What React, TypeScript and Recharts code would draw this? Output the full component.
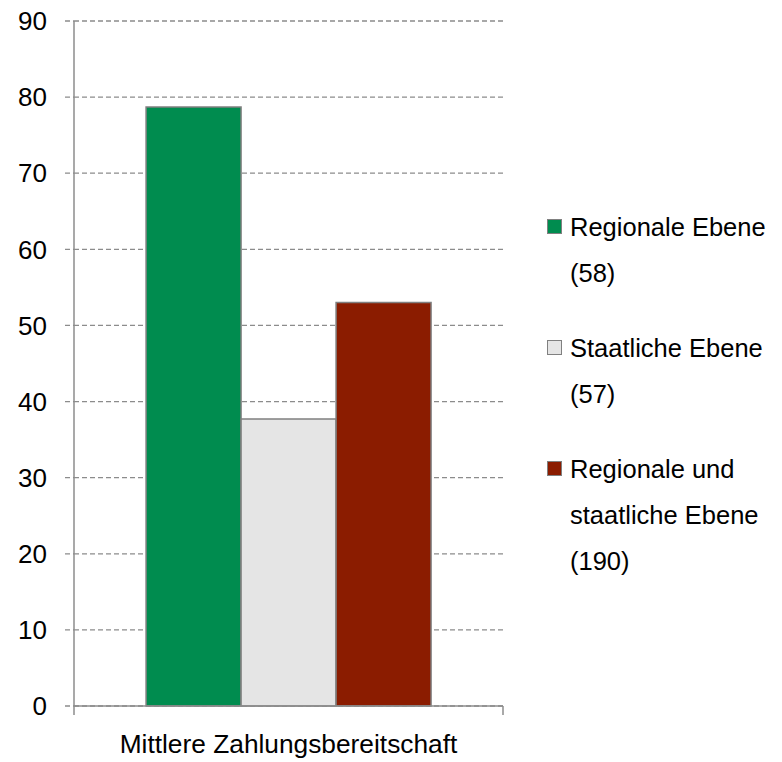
import { BarChart, Bar, XAxis, YAxis, CartesianGrid, Legend } from 'recharts';

const categories = ['Mittlere Zahlungsbereitschaft'];
const regionalValues = [78.7];
const staatlichValues = [37.7];
const beideValues = [53.0];
const seriesKeys = ['regional', 'staatlich', 'beide'];
const seriesLabels = ['Regionale Ebene\n(58)', 'Staatliche Ebene\n(57)', 'Regionale und\nstaatliche Ebene\n(190)'];
const seriesColors = ['#008C4F', '#E5E5E5', '#8B1C00'];
const yTicks = [0, 10, 20, 30, 40, 50, 60, 70, 80, 90];

const data = categories.map((name, i) => ({
  name,
  regional: regionalValues[i],
  staatlich: staatlichValues[i],
  beide: beideValues[i],
}));

const FONT = '"Liberation Sans", Arial, sans-serif';
const GRID = '#8C8C8C';

// category label plus the short tick marks on both edges of the band (Excel style)
function CategoryTick(props: any) {
  const { x, y, width, payload } = props;
  const half = payload?.offset || width / categories.length / 2;
  return (
    <g>
      <line x1={x - half} x2={x - half} y1={y} y2={y + 9} stroke={GRID} strokeWidth={1.5} />
      <line x1={x + half} x2={x + half} y1={y} y2={y + 9} stroke={GRID} strokeWidth={1.5} />
      <text x={x} y={y + 28} dy="0.71em" textAnchor="middle" fill="#000" fontSize={26.3} fontFamily={FONT}>
        {payload.value}
      </text>
    </g>
  );
}

function LegendBox({ payload }: any) {
  // keep the series order instead of the alphabetical default
  const items = [...(payload || [])].sort(
    (a: any, b: any) => seriesLabels.indexOf(a.value) - seriesLabels.indexOf(b.value)
  );
  return (
    <div style={{ fontFamily: FONT, fontSize: 25.5, color: '#000' }}>
      {items.map((entry: any, i: number) => (
        <div key={i} style={{ display: 'flex', alignItems: 'flex-start', marginBottom: 29 }}>
          <div
            style={{
              width: 13,
              height: 13,
              marginTop: 15,
              marginRight: 8,
              background: entry.color,
              border: '1.5px solid #808080',
              flexShrink: 0,
            }}
          />
          <div style={{ whiteSpace: 'pre-line', lineHeight: '46px' }}>{entry.value}</div>
        </div>
      ))}
    </div>
  );
}

export default function App() {
  return (
    <div style={{ position: 'absolute', left: 0, top: 0, width: 782, height: 762, background: '#fff' }}>
      <BarChart
        width={782}
        height={762}
        data={data}
        margin={{ top: 21, right: 279, bottom: 0, left: 0 }}
        barCategoryGap="16.8%"
        barGap={0}
      >
        <CartesianGrid vertical={false} stroke={GRID} strokeDasharray="5 3" strokeWidth={1.3} />
        <XAxis
          dataKey="name"
          height={56}
          axisLine={{ stroke: GRID, strokeWidth: 1.5 }}
          tickLine={false}
          tickSize={0}
          tickMargin={0}
          tick={<CategoryTick />}
        />
        <YAxis
          width={74}
          domain={[0, 90]}
          ticks={yTicks}
          interval={0}
          axisLine={{ stroke: GRID, strokeWidth: 1.5 }}
          tickLine={{ stroke: GRID, strokeWidth: 1.3, strokeDasharray: '5 3' }}
          tickSize={9}
          tickMargin={18}
          tick={{ fill: '#000', fontSize: 26, fontFamily: FONT }}
        />
        <Legend
          layout="vertical"
          align="center"
          verticalAlign="middle"
          wrapperStyle={{ left: 547, top: 204, width: 235 }}
          content={<LegendBox />}
        />
        {seriesKeys.map((key, i) => (
          <Bar
            key={key}
            dataKey={key}
            name={seriesLabels[i]}
            fill={seriesColors[i]}
            stroke="#808080"
            strokeWidth={1.5}
            isAnimationActive={false}
          />
        ))}
      </BarChart>
    </div>
  );
}
